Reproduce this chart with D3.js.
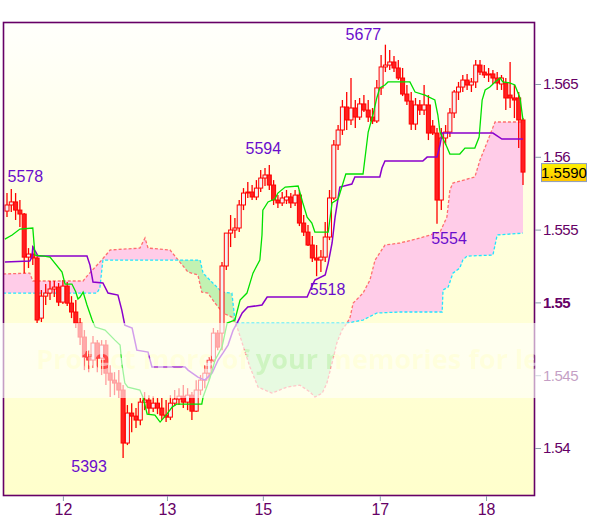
<!DOCTYPE html>
<html>
<head>
<meta charset="utf-8">
<script src="https://cdn.jsdelivr.net/npm/d3@7"></script>
<style>
  body { margin: 0; background: #fff; }
  svg { display: block; font-family: Arial, "Liberation Sans", sans-serif; }
</style>
</head>
<body>
<div id="chart"></div>
<script>
// hourly candles
const open = [1.55627,1.55669,1.55690,1.55634,1.55607,1.55311,1.55332,1.55305,1.54892,1.55043,
  1.55064,1.55092,1.55105,1.55002,1.55112,1.54995,1.54934,1.54858,1.54762,1.54624,
  1.54604,1.54721,1.54617,1.54707,1.54514,1.54466,1.54446,1.54398,1.54034,1.54240,
  1.54219,1.54192,1.54315,1.54329,1.54274,1.54308,1.54274,1.54226,1.54212,1.54308,
  1.54336,1.54356,1.54315,1.54363,1.54253,1.54398,1.54466,1.54514,1.54604,1.54789,
  1.54789,1.55250,1.55476,1.55497,1.55511,1.55669,1.55751,1.55758,1.55724,1.55785,
  1.55854,1.55875,1.55806,1.55703,1.55683,1.55703,1.55724,1.55683,1.55737,1.55545,
  1.55483,1.55394,1.55305,1.55291,1.55311,1.55449,1.55717,1.56081,1.56184,1.56342,
  1.56253,1.56335,1.56273,1.56363,1.56321,1.56273,1.56246,1.56473,1.56617,1.56630,
  1.56651,1.56610,1.56541,1.56431,1.56383,1.56225,1.56356,1.56321,1.56356,1.56211,
  1.56163,1.55703,1.56129,1.56170,1.56301,1.56445,1.56479,1.56527,1.56493,1.56514,
  1.56630,1.56582,1.56562,1.56569,1.56541,1.56500,1.56507,1.56424,1.56404,1.56404,
  1.56253];
const high = [1.55751,1.55779,1.55751,1.55703,1.55614,1.55373,1.55387,1.55325,1.55085,1.55126,
  1.55147,1.55147,1.55133,1.55153,1.55140,1.55043,1.55016,1.54892,1.54810,1.54672,
  1.54769,1.54741,1.54741,1.54741,1.54569,1.54521,1.54535,1.54432,1.54295,1.54308,
  1.54274,1.54343,1.54384,1.54363,1.54356,1.54343,1.54343,1.54329,1.54363,1.54398,
  1.54411,1.54432,1.54411,1.54384,1.54466,1.54501,1.54569,1.54624,1.54824,1.54810,
  1.55277,1.55394,1.55600,1.55579,1.55703,1.55785,1.55827,1.55806,1.55840,1.55909,
  1.55923,1.55943,1.55840,1.55737,1.55758,1.55772,1.55751,1.55772,1.55772,1.55600,
  1.55531,1.55456,1.55394,1.55360,1.55552,1.55772,1.56115,1.56218,1.56390,1.56445,
  1.56541,1.56390,1.56404,1.56424,1.56390,1.56335,1.56527,1.56699,1.56770,1.56733,
  1.56692,1.56665,1.56610,1.56493,1.56445,1.56404,1.56390,1.56493,1.56424,1.56253,
  1.56198,1.56198,1.56218,1.56335,1.56459,1.56514,1.56562,1.56569,1.56541,1.56665,
  1.56665,1.56630,1.56610,1.56596,1.56582,1.56562,1.56541,1.56651,1.56493,1.56445,
  1.56266];
const low = [1.55586,1.55621,1.55566,1.55518,1.55201,1.55236,1.55256,1.54858,1.54865,1.54982,
  1.55016,1.55037,1.54975,1.54989,1.54975,1.54892,1.54824,1.54707,1.54535,1.54521,
  1.54549,1.54521,1.54501,1.54432,1.54350,1.54363,1.54343,1.53931,1.54020,1.54109,
  1.54137,1.54157,1.54260,1.54226,1.54247,1.54233,1.54192,1.54178,1.54192,1.54288,
  1.54295,1.54274,1.54260,1.54192,1.54247,1.54363,1.54411,1.54466,1.54590,1.54672,
  1.54672,1.55222,1.55380,1.55442,1.55483,1.55634,1.55717,1.55703,1.55703,1.55758,
  1.55799,1.55772,1.55669,1.55648,1.55662,1.55676,1.55648,1.55662,1.55524,1.55456,
  1.55387,1.55277,1.55180,1.55208,1.55277,1.55428,1.55703,1.56047,1.56150,1.56184,
  1.56218,1.56198,1.56253,1.56308,1.56239,1.56225,1.56232,1.56424,1.56582,1.56596,
  1.56582,1.56527,1.56417,1.56356,1.56184,1.56184,1.56287,1.56287,1.56115,1.56150,
  1.55540,1.55634,1.56081,1.56136,1.56266,1.56390,1.56445,1.56459,1.56445,1.56473,
  1.56562,1.56541,1.56514,1.56500,1.56459,1.56459,1.56321,1.56335,1.56266,1.56060,
  1.55806];
const close = [1.55669,1.55690,1.55634,1.55607,1.55311,1.55332,1.55305,1.54879,1.55043,1.55064,
  1.55092,1.55105,1.55002,1.55112,1.54995,1.54934,1.54858,1.54762,1.54624,1.54604,
  1.54721,1.54617,1.54707,1.54514,1.54466,1.54446,1.54398,1.54034,1.54240,1.54219,
  1.54192,1.54315,1.54329,1.54274,1.54308,1.54274,1.54226,1.54212,1.54308,1.54336,
  1.54356,1.54315,1.54363,1.54253,1.54398,1.54466,1.54514,1.54604,1.54789,1.54693,
  1.55250,1.55476,1.55497,1.55511,1.55669,1.55751,1.55758,1.55724,1.55785,1.55854,
  1.55875,1.55806,1.55703,1.55683,1.55717,1.55724,1.55683,1.55737,1.55545,1.55483,
  1.55394,1.55305,1.55291,1.55311,1.55449,1.55717,1.56081,1.56184,1.56342,1.56253,
  1.56335,1.56273,1.56363,1.56321,1.56273,1.56246,1.56473,1.56617,1.56630,1.56651,
  1.56610,1.56541,1.56431,1.56383,1.56225,1.56356,1.56321,1.56356,1.56163,1.56163,
  1.55703,1.56129,1.56170,1.56301,1.56445,1.56479,1.56527,1.56493,1.56514,1.56630,
  1.56582,1.56562,1.56569,1.56541,1.56507,1.56541,1.56404,1.56404,1.56390,1.56253,
  1.55895];

// ichimoku lines, read as vertices: candle index + price
const tenkanIdx = [-0.5,1.2,3.0,6.0,6.5,8.6,10.0,12.8,13.5,15.1,16.0,16.5,17.0,17.7,18.6,19.8,20.5,22.8,25.1,26.3,
  26.7,27.4,28.1,30.9,31.6,32.6,34.4,35.6,37.2,38.4,39.5,45.3,45.6,47.2,48.4,50.0,51.2,53.0,54.2,55.8,
  57.2,58.8,59.3,59.5,60.7,62.3,63.0,64.7,67.7,68.8,69.8,70.9,71.6,74.7,75.6,77.0,78.8,82.8,84.0,85.1,
  86.0,86.7,87.9,88.6,93.7,94.9,97.2,99.5,100.2,100.7,102.3,103.0,105.3,106.5,108.8,109.8,110.5,111.2,112.3,113.5,
  114.7,115.3,116.9,118.1,119.3,120.0];
const tenkanVal = [1.55435,1.55463,1.55504,1.55511,1.55325,1.55318,1.55311,1.55208,1.55126,1.55126,
  1.55071,1.55023,1.55037,1.55071,1.54982,1.54879,1.54831,1.54810,1.54741,1.54707,
  1.54583,1.54446,1.54418,1.54398,1.54350,1.54233,1.54226,1.54178,1.54233,1.54281,
  1.54302,1.54302,1.54350,1.54480,1.54604,1.54693,1.54858,1.54879,1.55016,1.55064,
  1.55201,1.55291,1.55463,1.55634,1.55690,1.55710,1.55751,1.55792,1.55799,1.55683,
  1.55586,1.55545,1.55483,1.55483,1.55683,1.55710,1.55882,1.55882,1.56170,1.56287,
  1.56404,1.56473,1.56493,1.56514,1.56514,1.56445,1.56424,1.56390,1.56287,1.56170,
  1.56067,1.56019,1.56019,1.56060,1.56060,1.56136,1.56390,1.56459,1.56479,1.56514,
  1.56541,1.56514,1.56507,1.56493,1.56404,1.56253];

const kijunIdx = [-0.5,5.3,5.8,6.0,6.7,7.2,18.6,19.3,20.0,22.3,23.5,25.8,26.7,27.4,29.1,30.2,32.8,33.7,41.4,42.1,
  44.4,46.0,47.7,49.1,50.2,51.4,52.6,53.5,54.7,56.0,59.3,60.5,69.8,70.5,71.6,74.0,74.7,75.6,76.3,77.4,
  80.2,80.9,86.7,87.2,87.9,96.7,97.7,100.0,100.7,101.2,113.0,115.1,120.0];
const kijunVal = [1.55277,1.55284,1.55311,1.55380,1.55346,1.55318,1.55318,1.55256,1.55140,1.55133,
  1.55064,1.55050,1.54947,1.54844,1.54824,1.54672,1.54659,1.54556,1.54556,1.54535,
  1.54487,1.54466,1.54514,1.54604,1.54652,1.54707,1.54810,1.54858,1.54927,1.54968,
  1.54982,1.55037,1.55037,1.55085,1.55153,1.55188,1.55270,1.55408,1.55586,1.55792,
  1.55813,1.55861,1.55861,1.55923,1.55971,1.55971,1.55998,1.55998,1.56081,1.56163,
  1.56163,1.56122,1.56122];

const spanAIdx = [-0.9,5.3,6.0,17.7,18.8,21.6,24.0,30.9,32.1,32.8,37.9,40.2,42.1,44.4,45.3,46.7,48.4,50.2,52.3,53.5,
  56.5,58.4,61.6,65.1,68.1,70.5,71.6,73.3,74.4,75.6,76.7,77.9,79.1,79.8,80.5,82.8,84.4,85.6,87.9,91.4,
  96.0,100.7,102.3,103.0,103.7,108.8,110.0,111.6,113.5,120.0];
const spanAVal = [1.55195,1.55201,1.55147,1.55147,1.55188,1.55277,1.55360,1.55373,1.55442,1.55373,
  1.55360,1.55277,1.55208,1.55188,1.55071,1.55064,1.54995,1.54927,1.54899,1.54831,
  1.54556,1.54418,1.54377,1.54418,1.54432,1.54384,1.54350,1.54377,1.54446,1.54583,
  1.54721,1.54810,1.54858,1.54899,1.54995,1.55064,1.55153,1.55291,1.55394,1.55408,
  1.55442,1.55483,1.55586,1.55772,1.55820,1.55861,1.55978,1.56095,1.56239,1.56239];

const spanBIdx = [-0.9,20.9,21.6,22.3,44.9,45.6,47.2,50.0,52.3,53.0,53.7,79.1,82.8,86.0,91.4,101.2,101.4,102.6,103.7,105.3,
  106.0,107.0,113.0,114.0,120.0];
const spanBVal = [1.55064,1.55064,1.55098,1.55291,1.55291,1.55201,1.55153,1.55071,1.55064,1.54879,
  1.54858,1.54858,1.54879,1.54927,1.54934,1.54934,1.55085,1.55105,1.55201,1.55236,
  1.55291,1.55318,1.55325,1.55463,1.55476];

// x axis: day boundaries as candle positions
const dayIdx = [13, 37.2, 59.5, 86.7, 111.4];
const dayLabels = ["12", "13", "15", "17", "18"];
const priceTicks = [1.54, 1.545, 1.55, 1.555, 1.56, 1.565];

// swing labels: candle index and which end of the candle
const markIdx = [1, 61, 88, 72, 100, 27];
const markSide = ["high", "high", "high", "low", "low", "low"];
const markDx = [14, -6, -22, 11, 12, -34], markDy = [-7, -11, -5, 19, 20, 14];

const svgWidth = 600, svgHeight = 519,
    plot = { left: 3, top: 22, right: 535, bottom: 496 };

var svg = d3.select("#chart").append("svg")
    .attr("width", svgWidth)
    .attr("height", svgHeight);
const defs = svg.append("defs");

const bg = defs.append("linearGradient").attr("id", "bg")
    .attr("x1", 0).attr("y1", 0).attr("x2", 0).attr("y2", 1);
bg.append("stop").attr("offset", "0%").attr("stop-color", "#fffffc");
bg.append("stop").attr("offset", "45%").attr("stop-color", "#ffffdc");
bg.append("stop").attr("offset", "100%").attr("stop-color", "#ffffcc");

const tag = defs.append("linearGradient").attr("id", "tag")
    .attr("x1", 0).attr("y1", 0).attr("x2", 0).attr("y2", 1);
tag.append("stop").attr("offset", "0%").attr("stop-color", "#fff200");
tag.append("stop").attr("offset", "100%").attr("stop-color", "#ffc400");

defs.append("clipPath").attr("id", "plotClip").append("rect")
    .attr("x", plot.left).attr("y", plot.top)
    .attr("width", plot.right - plot.left).attr("height", plot.bottom - plot.top);

// scales
let xScale = d3.scaleLinear().domain([0, close.length - 1]).range([7, 523]),
    yScale = d3.scaleLinear().domain([1.536703, 1.569258]).range([plot.bottom, plot.top]);

const pts = (idx, val) => idx.map((d, i) => [xScale(d), yScale(val[i])]);
const A = pts(spanAIdx, spanAVal), B = pts(spanBIdx, spanBVal);

defs.append("clipPath").attr("id", "aboveB").append("path")
    .attr("d", d3.area().x(d => d[0]).y0(plot.top).y1(d => d[1])(B));
defs.append("clipPath").attr("id", "belowB").append("path")
    .attr("d", d3.area().x(d => d[0]).y0(plot.bottom).y1(d => d[1])(B));

svg.append("rect")
    .attr("x", plot.left).attr("y", plot.top)
    .attr("width", plot.right - plot.left).attr("height", plot.bottom - plot.top)
    .attr("fill", "url(#bg)");

const g = svg.append("g").attr("clip-path", "url(#plotClip)");

// cloud
const cloud = d3.line()(A.concat(B.slice().reverse())) + "Z";
g.append("path").attr("d", cloud).attr("fill", "#ffcce8").attr("clip-path", "url(#aboveB)");
g.append("path").attr("d", cloud).attr("fill", "#c2f2b2").attr("clip-path", "url(#belowB)");
g.append("path").attr("d", d3.line()(A))
    .attr("fill", "none").attr("stroke", "#ff6f6f").attr("stroke-width", 1.3)
    .attr("stroke-dasharray", "3,2");
g.append("path").attr("d", d3.line()(B))
    .attr("fill", "none").attr("stroke", "#22e4ff").attr("stroke-width", 1.3)
    .attr("stroke-dasharray", "3,2");

// candles
const bars = close.map((c, i) => ({ i: i, o: open[i], h: high[i], l: low[i], c: c }));
const candle = g.selectAll("g.candle").data(bars).join("g").attr("class", "candle");
candle.append("line")
    .attr("x1", d => xScale(d.i)).attr("x2", d => xScale(d.i))
    .attr("y1", d => yScale(d.h)).attr("y2", d => yScale(d.l))
    .attr("stroke", "#ff0000").attr("stroke-width", 1.3);
candle.append("rect")
    .attr("x", d => xScale(d.i) - 2).attr("width", 4)
    .attr("y", d => yScale(Math.max(d.o, d.c)))
    .attr("height", d => Math.max(1, Math.abs(yScale(d.o) - yScale(d.c))))
    .attr("fill", d => d.c > d.o ? "#f2f2f2" : "#ff2020")
    .attr("stroke", "#ff0000").attr("stroke-width", 1);

// base and conversion lines
g.append("path").attr("d", d3.line()(pts(kijunIdx, kijunVal)))
    .attr("fill", "none").attr("stroke", "#8a00cc").attr("stroke-width", 1.5);
g.append("path").attr("d", d3.line()(pts(tenkanIdx, tenkanVal)))
    .attr("fill", "none").attr("stroke", "#00e000").attr("stroke-width", 1.3);

// swing labels
svg.append("g").selectAll("text")
    .data(markIdx)
    .join("text")
    .attr("x", (d, k) => xScale(d) + markDx[k])
    .attr("y", (d, k) => yScale(markSide[k] == "high" ? high[d] : low[d]) + markDy[k])
    .attr("text-anchor", "middle")
    .attr("font-size", 16)
    .attr("fill", "#6a0dcc")
    .text((d, k) => String(Math.round((markSide[k] == "high" ? high[d] : low[d]) * 10000) % 10000));

// frame
svg.append("rect")
    .attr("x", plot.left + 0.5).attr("y", plot.top + 0.5)
    .attr("width", plot.right - plot.left - 1).attr("height", plot.bottom - plot.top - 1)
    .attr("fill", "none").attr("stroke", "#660066").attr("stroke-width", 1.6);

// axes
let yAxis = svg.append("g")
    .attr("transform", `translate(${plot.right}, 0)`)
    .call(d3.axisRight(yScale).tickValues(priceTicks).tickSize(6).tickPadding(2)
        .tickFormat(d => String(d)));
yAxis.select(".domain").remove();
yAxis.selectAll("line").attr("stroke", "#8a9aac");
yAxis.selectAll("text")
    .attr("font-size", 15).attr("font-family", "Arial, 'Liberation Sans', sans-serif")
    .attr("letter-spacing", -0.5)
    .attr("fill", "#660066")
    .attr("font-weight", d => d == 1.55 ? "bold" : "normal");

let xAxis = svg.append("g")
    .attr("transform", `translate(0, ${plot.bottom})`)
    .call(d3.axisBottom(xScale).tickValues(dayIdx).tickSize(5).tickPadding(3)
        .tickFormat((d, i) => dayLabels[i]));
xAxis.select(".domain").remove();
xAxis.selectAll("line").attr("stroke", "#8a9aac");
xAxis.selectAll("text")
    .attr("font-size", 16).attr("font-family", "Arial, 'Liberation Sans', sans-serif")
    .attr("fill", "#660066");

// last price tag
const last = close[close.length - 1];
svg.append("rect")
    .attr("x", 541.5).attr("y", yScale(last) - 8.5)
    .attr("width", 45).attr("height", 18)
    .attr("fill", "url(#tag)").attr("stroke", "#8c9cc0");
svg.append("text")
    .attr("x", 564).attr("y", yScale(last) + 6)
    .attr("text-anchor", "middle").attr("font-size", 15).attr("fill", "#000")
    .text(d3.format(".4f")(last));

// host watermark band, letters cut out
const mask = defs.append("mask").attr("id", "wm");
mask.append("rect").attr("width", svgWidth).attr("height", svgHeight).attr("fill", "#fff");
mask.append("text")
    .attr("x", 36).attr("y", 369)
    .attr("font-size", 27).attr("font-weight", "bold")
    .attr("font-family", "'Open Sans', sans-serif")
    .attr("textLength", 530).attr("lengthAdjust", "spacing")
    .attr("fill", "#555")
    .text("Protect more of your memories for less");
svg.append("rect")
    .attr("x", 0).attr("y", 323).attr("width", svgWidth).attr("height", 75)
    .attr("fill", "#fff").attr("opacity", 0.62)
    .attr("mask", "url(#wm)");
</script>
</body>
</html>
